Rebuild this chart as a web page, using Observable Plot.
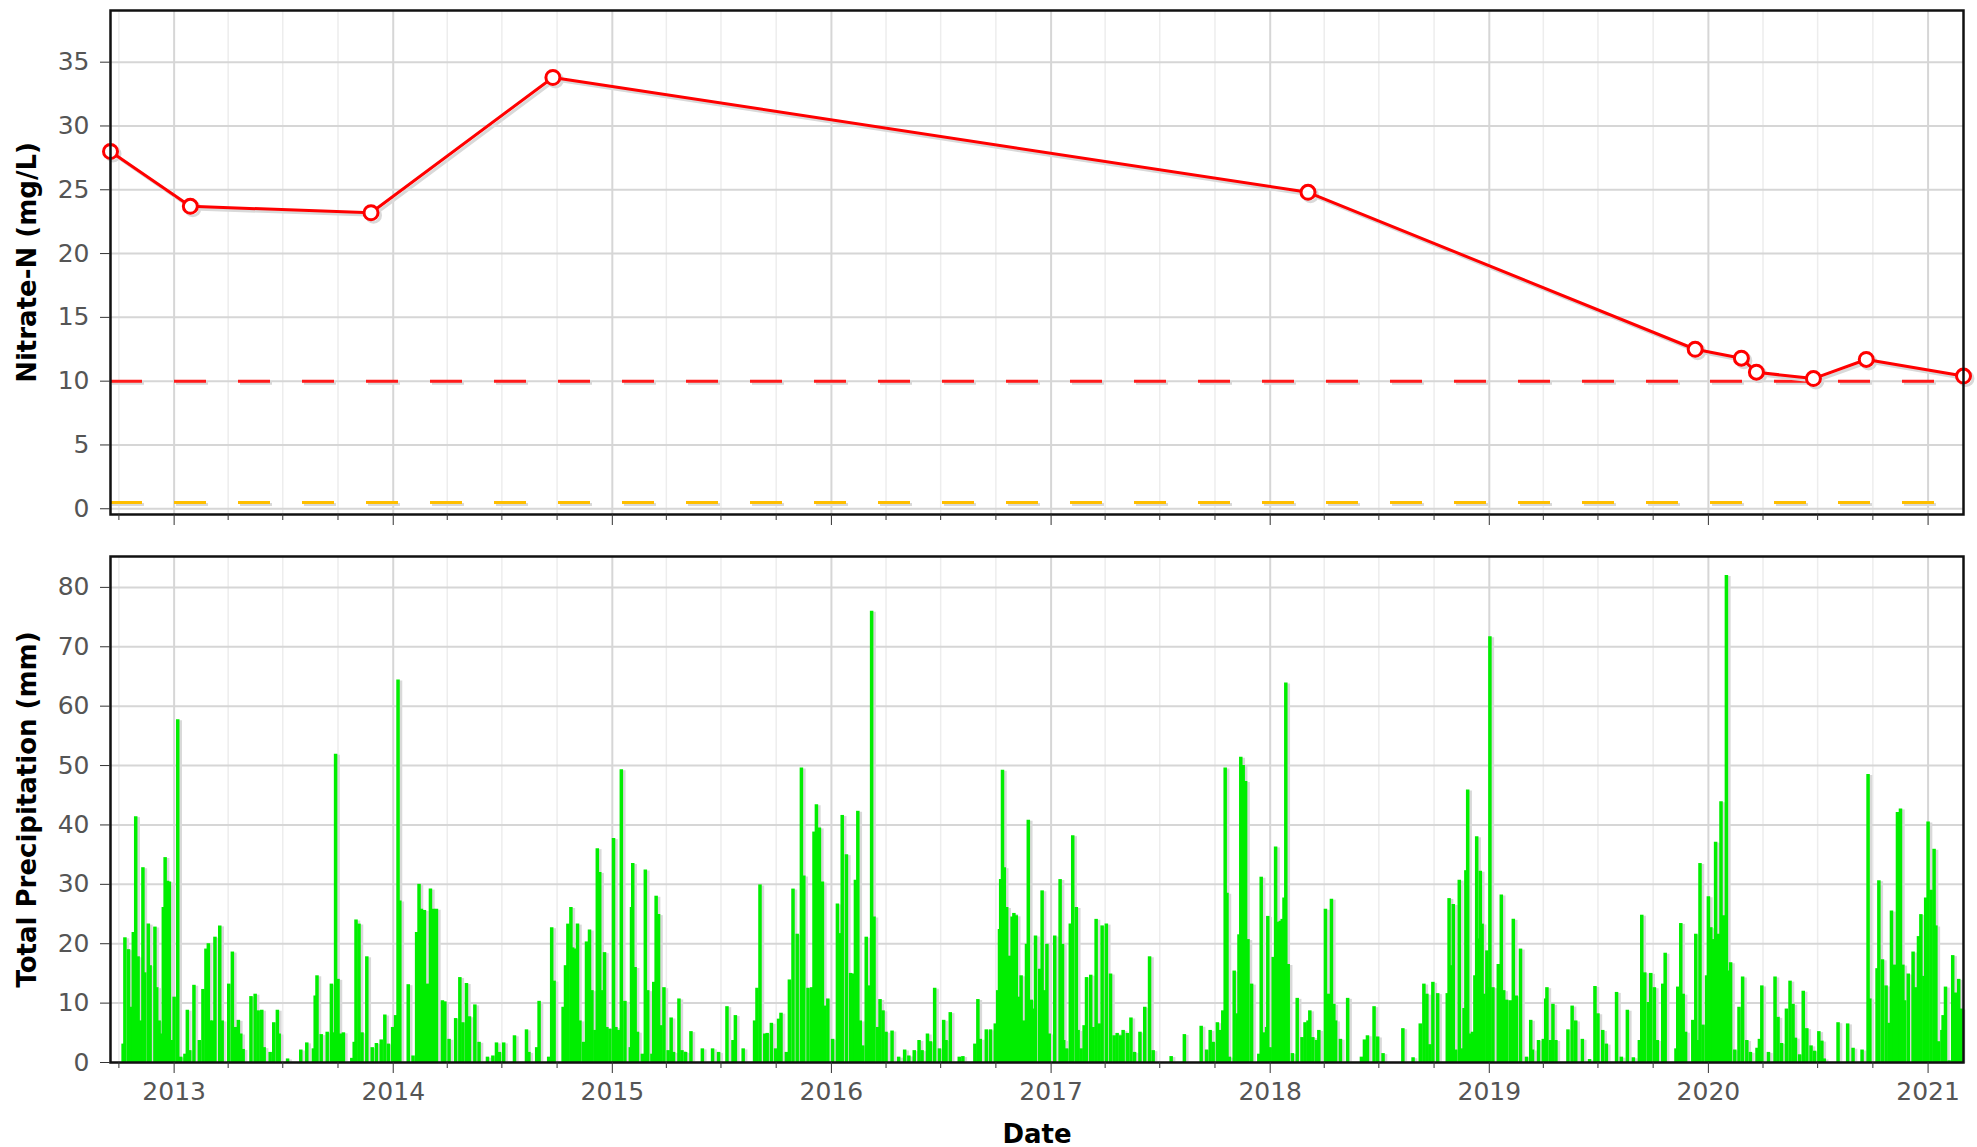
<!DOCTYPE html>
<html>
<head>
<meta charset="utf-8">
<script src="https://cdn.jsdelivr.net/npm/d3@7"></script>
<script src="https://cdn.jsdelivr.net/npm/@observablehq/plot@0.6"></script>
<style>
  html, body { margin: 0; padding: 0; background: #fff; }
  #wrap { position: relative; width: 1977px; height: 1147px; overflow: hidden; background: #fff; }
  #wrap svg { position: absolute; left: 0; }
  g[aria-label="y-axis label"], g[aria-label="x-axis label"] { fill: #000; font-weight: bold; font-size: 26px; }
</style>
</head>
<body>
<div id="wrap"></div>
<script>
// ---------- Nitrate-N samples ----------
const nitrateDates  = ["2012-09-17","2013-01-28","2013-11-25","2014-09-24","2018-03-05","2019-12-10","2020-02-25","2020-03-21","2020-06-24","2020-09-20","2021-03-01"];
const nitrateValues = [28.0, 23.7, 23.2, 33.8, 24.8, 12.5, 11.8, 10.7, 10.2, 11.7, 10.4];
const drinkingLimit = [10];
const backgroundLevel = [0.5];

// ---------- Daily total precipitation: [day of year, mm] ----------
const rain2012 = [[282,3.1],[285,21],[291,19],[295,9.3],[299,21.9],[303,41.4],[307,17.8],[311,7],[315,32.8],[318,15.1],[324,23.3],[327,16.3],[335,22.8],[338,12.6],[342,7],[345,4.8],[349,26.1],[352,34.5],[356,30.5],[359,30.4],[363,3.7]];
const rain2013 = [[1,11],[7,57.7],[12,0.9],[19,1.4],[23,8.8],[27,2],[34,13],[43,3.7],[49,12.3],[54,19.1],[58,20],[61,7],[65,7],[69,21.1],[77,23],[81,7],[92,13.2],[98,18.6],[103,5.9],[108,7.1],[112,4.8],[116,2.2],[129,11.1],[136,11.5],[141,8.7],[147,8.8],[151,2.5],[161,1.7],[167,6.7],[173,8.8],[176,4.8],[190,0.6],[212,2.1],[222,3.3],[233,2.3],[236,11.2],[239,14.6],[246,4.7],[256,5.1],[263,13.2],[267,5],[270,51.9],[274,14],[278,4.8],[283,5],[297,0.7],[301,3.4],[304,24],[309,23.3],[314,5],[322,17.8],[331,2.5],[338,3.2],[346,3.8],[352,8],[358,3.1],[365,5.9]];
const rain2014 = [[5,7.9],[9,64.4],[12,27.2],[26,13.1],[34,1.1],[40,21.9],[44,30],[48,25.8],[53,25.6],[58,13.2],[63,29.2],[68,25.8],[73,25.8],[83,10.4],[87,10.2],[94,3.9],[105,7.4],[112,14.3],[117,6.7],[123,13.3],[128,7.7],[137,9.7],[144,3.4],[158,0.9],[167,1.1],[173,3.3],[178,1.7],[185,3.3],[203,4.5],[223,5.5],[227,1.7],[240,2.5],[244,10.3],[260,0.9],[265,22.7],[269,13.7],[284,9.3],[288,16.3],[292,23.3],[297,26.1],[300,19.3],[304,19.1],[308,23.3],[312,7],[318,3.4],[323,20.3],[328,22.3],[332,12.1],[337,5.4],[341,36],[345,32],[349,12.1],[353,18.5],[357,5.9],[362,5.6]];
const rain2015 = [[3,37.7],[7,5.9],[11,5.4],[16,49.3],[22,10.3],[31,2.5],[33,26.1],[35,33.5],[39,16],[43,5.1],[51,1.4],[56,32.4],[60,12.1],[67,1.4],[70,13.5],[74,28],[78,24.9],[82,6.2],[87,12.6],[94,2],[99,7.5],[103,1.7],[112,10.7],[117,2],[123,1.7],[132,5.2],[151,2.3],[168,2.3],[178,1.7],[192,9.4],[202,3.7],[206,7.9],[219,2.3],[238,7],[242,12.5],[247,29.9],[255,4.8],[259,4.9],[266,6.6],[273,2.3],[278,7.3],[282,8.3],[291,1.7],[296,13.9],[302,29.2],[309,21.6],[316,49.6],[320,31.4],[327,12.5],[333,12.6],[337,38.8],[341,43.4],[346,39.5],[351,30.4],[355,9.5],[360,10.7]];
const rain2016 = [[3,3.9],[11,26.7],[15,21.7],[19,41.6],[26,35],[33,15],[38,14.9],[41,30.7],[45,42.3],[49,7],[53,2.8],[59,21.1],[63,12.9],[68,76],[72,24.5],[78,5.9],[82,10.6],[87,8.7],[92,5.1],[102,5.3],[113,0.9],[123,2.1],[130,1.1],[139,2],[147,3.7],[152,2],[161,4.8],[166,3.5],[173,12.5],[181,2.3],[188,7.1],[192,3.7],[199,8.4],[214,0.9],[220,1],[240,3.1],[245,10.6],[249,3.9],[259,5.5],[266,5.5],[274,6.5],[278,12.1],[281,22.4],[283,30.8],[286,49.2],[289,32.8],[293,26.1],[298,17.9],[302,24.5],[305,25.1],[309,24.7],[313,11],[317,14.6],[321,7],[326,19.9],[329,40.8],[334,10.5],[338,9],[341,21.3],[348,15.7],[352,28.9],[356,12.1],[360,19.9],[364,4.8]];
const rain2017 = [[7,21.3],[16,30.8],[20,19.9],[22,3.7],[27,2.3],[33,23.3],[37,38.2],[43,26.1],[46,5.4],[51,2.3],[56,6.2],[60,14.3],[67,14.7],[71,5.9],[76,24.1],[81,6.5],[86,23],[93,23.3],[100,14.9],[106,4.5],[111,4.9],[117,4.5],[121,5.4],[128,4.9],[134,7.5],[140,1.7],[149,5.1],[157,9.3],[165,17.8],[171,2],[201,1],[223,4.7],[251,6.1],[260,2.1],[266,5.4],[271,3.4],[278,6.7],[283,5.4],[287,8.7],[291,49.6],[294,28.5],[298,0.9],[306,15.4],[311,8.2],[314,21.5],[317,51.4],[321,50],[325,47.3],[329,20.7],[335,13.2],[347,1.4],[351,31.2],[355,5],[360,5.9],[362,24.6]];
const rain2018 = [[1,2.5],[6,17.7],[10,36.3],[15,23.6],[18,23.8],[21,24.1],[24,27.7],[27,63.9],[31,16.5],[38,1.5],[46,10.8],[54,4.2],[59,6.7],[64,7],[67,8.7],[72,4.2],[78,3.7],[82,5.4],[93,25.8],[98,11.5],[103,27.5],[107,9.8],[110,7],[118,3.9],[130,10.8],[153,0.9],[158,3.8],[163,4.5],[174,9.4],[180,4.3],[189,1.5],[222,5.7],[239,0.8],[251,6.5],[257,13.2],[262,11.5],[267,3],[272,13.5],[280,11.6],[296,11.6],[299,27.6],[303,16.3],[306,26.6],[310,2.1],[316,30.7],[320,2.3],[324,9.1],[327,32.3],[330,45.9],[333,4.8],[338,5.1],[342,14.6],[345,38],[348,20.8],[351,32.2],[354,23.3],[357,11.5],[362,18.8],[365,12.6]];
const rain2019 = [[2,71.7],[7,12.6],[16,16.5],[21,28.2],[25,12.1],[30,10.5],[36,10.4],[41,24.1],[46,11.2],[53,19.1],[63,0.9],[70,7.1],[73,2.1],[83,3.7],[91,3.9],[95,10.7],[97,12.6],[103,3.7],[107,9.8],[112,3.7],[132,5.5],[139,9.5],[145,7],[156,3.9],[168,0.5],[177,12.8],[182,8.2],[190,5.4],[196,3.1],[213,11.8],[221,0.9],[231,8.8],[241,0.8],[251,3.7],[255,24.8],[260,15.1],[266,10.1],[270,15],[276,12.6],[281,3.7],[290,13.2],[294,18.4],[312,2.3],[315,12.7],[320,23.4],[324,11.5],[328,5.1],[340,7.1],[345,21.6],[349,3.7],[352,33.5],[357,6.3],[363,14.6]];
const rain2020 = [[1,27.9],[5,22.7],[9,20.7],[13,37.1],[18,21.6],[22,43.9],[26,24.7],[31,82],[35,15.4],[38,16.8],[45,2.1],[52,9.3],[58,14.4],[65,3.7],[71,1.7],[82,2.4],[86,3.9],[90,12.9],[101,1.7],[112,14.4],[117,7.6],[123,3.2],[131,9],[137,13.7],[142,9.8],[146,4.1],[153,1.3],[159,12],[165,5.7],[172,2.8],[178,1.9],[185,5.2],[190,3.6],[194,0.6],[217,6.7],[233,6.5],[242,2.4],[257,2.1],[267,48.5],[270,10.7],[282,15.8],[285,30.6],[291,17.3],[297,12.9],[302,6.6],[306,25.5],[311,16.4],[316,42.1],[321,42.7],[325,16.4],[328,10.4],[334,14.9],[342,18.6],[346,12.6],[351,21.2],[355,24.9],[360,14.5],[363,27.7]];
const rain2021 = [[1,40.5],[6,29],[11,35.9],[14,23],[18,3.5],[24,5.4],[26,7.9],[30,12.7],[36,0.3],[42,18],[47,11.7],[52,14],[56,9]];
const rainYears = [2012, 2013, 2014, 2015, 2016, 2017, 2018, 2019, 2020, 2021];
const rainByYear = [rain2012, rain2013, rain2014, rain2015, rain2016, rain2017, rain2018, rain2019, rain2020, rain2021];

// ---------- Axis ticks ----------
const yearTickLabels = [2013, 2014, 2015, 2016, 2017, 2018, 2019, 2020, 2021];
const nitrateTicks = [0, 5, 10, 15, 20, 25, 30, 35];
const precipTicks = [0, 10, 20, 30, 40, 50, 60, 70, 80];

// ---------- Derived tables ----------
const nitrate = nitrateDates.map((d, i) => ({date: new Date(d), value: nitrateValues[i]}));
const rain = rainYears.flatMap((yr, k) => rainByYear[k].map(([doy, mm]) => ({date: new Date(Date.UTC(yr, 0, doy)), mm})));
const xDomain = [new Date(nitrateDates[0]), new Date(nitrateDates[nitrateDates.length - 1])];
const majorTicks = yearTickLabels.map(y => new Date(Date.UTC(y, 0, 1)));
const minorTicks = d3.utcMonth.every(3).range(xDomain[0], xDomain[1]).filter(d => d.getUTCMonth() !== 0);

const FONT = {fontFamily: "'DejaVu Sans', sans-serif", fontSize: "25px", color: "#555", background: "transparent", overflow: "visible"};
const GREEN = "#00ee00";
const SHADOW = "#d9d9d9";

const commonX = {type: "utc", domain: xDomain};

function gridMarks(yTicks) {
  return [
    Plot.gridX(minorTicks, {stroke: "#ededed", strokeOpacity: 1, strokeWidth: 1.5}),
    Plot.gridX(majorTicks, {stroke: "#d6d6d6", strokeOpacity: 1, strokeWidth: 2}),
    Plot.gridY(yTicks, {stroke: "#d6d6d6", strokeOpacity: 1, strokeWidth: 2})
  ];
}

const topChart = Plot.plot({
  width: 1977, height: 530,
  marginLeft: 110, marginRight: 14, marginTop: 10, marginBottom: 16,
  style: FONT,
  x: {...commonX, axis: null},
  y: {domain: [-0.45, 39.05], axis: null},
  marks: [
    ...gridMarks(nitrateTicks),
    Plot.ruleY(drinkingLimit, {stroke: SHADOW, strokeWidth: 3, strokeDasharray: "32,32", dx: 2, dy: 2}),
    Plot.ruleY(drinkingLimit, {stroke: "#ff1a1a", strokeWidth: 3, strokeDasharray: "32,32"}),
    Plot.ruleY(backgroundLevel, {stroke: SHADOW, strokeWidth: 3, strokeDasharray: "32,32", dx: 2, dy: 2}),
    Plot.ruleY(backgroundLevel, {stroke: "#ffbf00", strokeWidth: 3, strokeDasharray: "32,32"}),
    Plot.line(nitrate, {x: "date", y: "value", stroke: SHADOW, strokeWidth: 3.2, dx: 2.5, dy: 2.5}),
    Plot.dot(nitrate, {x: "date", y: "value", r: 7, stroke: SHADOW, strokeWidth: 3, dx: 2.5, dy: 2.5}),
    Plot.line(nitrate, {x: "date", y: "value", stroke: "#ff0000", strokeWidth: 3}),
    Plot.dot(nitrate, {x: "date", y: "value", r: 7, fill: "white", stroke: "#ff0000", strokeWidth: 3}),
    Plot.frame({stroke: "#111", strokeWidth: 2.5}),
    Plot.axisY(nitrateTicks, {anchor: "left", tickSize: 10, tickPadding: 11, stroke: "#333", label: "Nitrate-N (mg/L)", labelArrow: "none", labelAnchor: "center", labelOffset: 93}),
    Plot.axisX(majorTicks, {anchor: "bottom", tickSize: 11, tickFormat: () => "", stroke: "#333", label: null}),
    Plot.axisX(minorTicks, {anchor: "bottom", tickSize: 6, tickFormat: () => "", stroke: "#333", label: null})
  ]
});
topChart.style.top = "0px";

const bottomChart = Plot.plot({
  width: 1977, height: 607,
  marginLeft: 110, marginRight: 14, marginTop: 16, marginBottom: 85,
  style: FONT,
  x: {...commonX, axis: null},
  y: {domain: [0, 85.2], axis: null},
  marks: [
    ...gridMarks(precipTicks),
    Plot.ruleX(rain, {x: "date", y: "mm", stroke: SHADOW, strokeWidth: 3.5, dx: 2.5, dy: 1}),
    Plot.ruleX(rain, {x: "date", y: "mm", stroke: GREEN, strokeWidth: 3.5}),
    Plot.frame({stroke: "#111", strokeWidth: 2.5}),
    Plot.axisY(precipTicks, {anchor: "left", tickSize: 10, tickPadding: 11, stroke: "#333", label: "Total Precipitation (mm)", labelArrow: "none", labelAnchor: "center", labelOffset: 93}),
    Plot.axisX(majorTicks, {anchor: "bottom", tickSize: 11, tickPadding: 9, tickFormat: d3.utcFormat("%Y"), stroke: "#333", label: "Date", labelArrow: "none", labelAnchor: "center", labelOffset: 80}),
    Plot.axisX(minorTicks, {anchor: "bottom", tickSize: 6, tickFormat: () => "", stroke: "#333", label: null})
  ]
});
bottomChart.style.top = "540px";

const wrap = document.getElementById("wrap");
wrap.appendChild(topChart);
wrap.appendChild(bottomChart);
</script>
</body>
</html>
